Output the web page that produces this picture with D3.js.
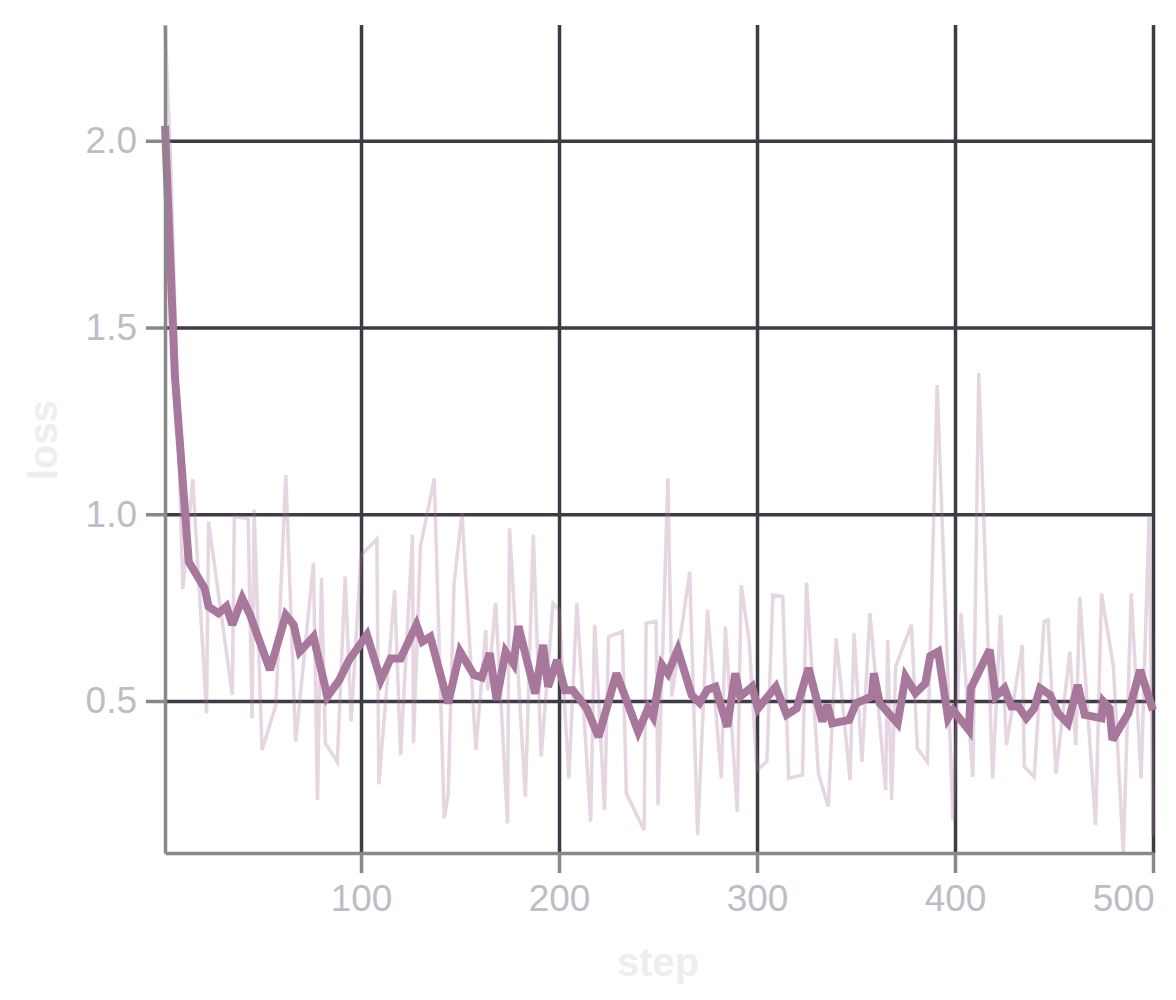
<!DOCTYPE html>
<html>
<head>
<meta charset="utf-8">
<script src="https://cdn.jsdelivr.net/npm/d3@7"></script>
<style>
  html, body { margin: 0; padding: 0; background: #ffffff; }
  svg { display: block; }
</style>
</head>
<body>
<div id="chart"></div>
<script>
// ---- data ----
const rawSteps = [1,4,10,15,22,23,35,36,43,45,46,50,57,62,67,76,78,80,82,88,92,95,100,108,109,117,120,126,126.5,130,137,142,144,147,151,158,163,164,168,174,175,183,187,191,197,200,205,209,216,218,223,225,232,234,243,244,249,250,255,257,266,270,275,282,284,290,292,296,300,305,308,313,316,323,325,331,336,340,347,349,353,357,365,366,368,370,378,381,386,391,399,403,409,412,419,423,426,434,435,440,445,447,451,458,461,463,471,474,480,485,489,494,498,500];
const rawLoss  = [2.31,1.92,0.80,1.094,0.467,0.98,0.516,0.994,0.988,0.454,1.012,0.369,0.489,1.105,0.391,0.870,0.235,0.829,0.387,0.337,0.833,0.445,0.891,0.933,0.277,0.797,0.355,0.945,0.387,0.913,1.096,0.186,0.248,0.815,1.003,0.369,0.69,0.529,0.762,0.172,0.962,0.244,0.945,0.351,0.762,0.744,0.293,0.762,0.177,0.704,0.208,0.672,0.686,0.253,0.154,0.708,0.713,0.221,1.096,0.512,0.846,0.141,0.744,0.293,0.699,0.204,0.81,0.663,0.315,0.338,0.784,0.78,0.293,0.302,0.817,0.306,0.217,0.668,0.288,0.681,0.337,0.735,0.262,0.663,0.235,0.592,0.704,0.373,0.337,1.346,0.181,0.735,0.297,1.378,0.293,0.73,0.382,0.65,0.324,0.297,0.713,0.717,0.306,0.632,0.382,0.779,0.168,0.788,0.592,0.093,0.788,0.293,0.994,0.14];

const smoothSteps = [1,6,13,21,23,28,32,35,40,44,54,62,66,69,76,83,89,94,103,110,115,120,128,131,135,144,150,157,161,165,168.5,173,177,179.5,188,192,194.5,199,203,207,214,220,229,240,245,247.5,252,255,260,267,271,275,279,285,289,291.5,297.5,300.5,309.5,315,320,326,333,335.5,338,346.5,350,358,359,362,371,375,380,385,387.5,391.5,396.5,399,407,408,417.5,420.5,425,428.5,432,436,440,443,448,452,457,462,465.5,474,475,478,479.5,487.5,493.5,500];
const smoothLoss  = [2.04,1.37,0.873,0.802,0.753,0.735,0.753,0.704,0.775,0.730,0.583,0.730,0.704,0.632,0.672,0.512,0.556,0.610,0.677,0.556,0.614,0.614,0.704,0.659,0.672,0.494,0.632,0.570,0.563,0.628,0.503,0.632,0.60,0.70,0.52,0.65,0.538,0.61,0.529,0.529,0.48,0.404,0.574,0.418,0.48,0.458,0.596,0.574,0.637,0.516,0.495,0.53,0.538,0.431,0.574,0.512,0.538,0.48,0.538,0.463,0.48,0.588,0.445,0.49,0.44,0.449,0.494,0.512,0.574,0.494,0.44,0.565,0.521,0.547,0.620,0.632,0.454,0.476,0.422,0.534,0.637,0.512,0.534,0.485,0.485,0.454,0.48,0.534,0.516,0.467,0.44,0.543,0.463,0.454,0.498,0.48,0.396,0.467,0.583,0.475];

const xTicks = [100, 200, 300, 400, 500];
const yTicks = [0.5, 1.0, 1.5, 2.0];
const xLabel = "step";
const yLabel = "loss";

// ---- layout ----
const W = 1176, H = 1000;
const margin = { top: 25, right: 23, bottom: 147, left: 165 };
const w = W - margin.left - margin.right;
const h = H - margin.top - margin.bottom;

const lineColor = "#a8779c";
const gridColor = "#3d3c44";
const axisColor = "#888888";
const tickTextColor = "#bebcc5";
const titleColor = "#eeeeee";
const fontFamily = "'Liberation Sans', Arial, Helvetica, sans-serif";

const raw = rawSteps.map((s, i) => ({ step: s, loss: rawLoss[i] }));
const smooth = smoothSteps.map((s, i) => ({ step: s, loss: smoothLoss[i] }));

const x = d3.scaleLinear().domain([1, 500]).range([0, w]);
const y = d3.scaleLinear().domain(d3.extent(rawLoss)).range([h, 0]);

const svg = d3.select("#chart").append("svg")
  .attr("width", W).attr("height", H);
const g = svg.append("g").attr("transform", `translate(${margin.left},${margin.top})`);

// grid
const gx = g.append("g")
  .call(d3.axisBottom(x).tickValues(xTicks).tickSize(h).tickFormat(""));
gx.select(".domain").remove();
gx.selectAll("line").attr("stroke", gridColor).attr("stroke-width", 3.5);

const gy = g.append("g")
  .call(d3.axisRight(y).tickValues(yTicks).tickSize(w).tickFormat(""));
gy.select(".domain").remove();
gy.selectAll("line").attr("stroke", gridColor).attr("stroke-width", 3.5);

// lines
const line = d3.line().x(d => x(d.step)).y(d => y(d.loss));

g.append("path").datum(raw)
  .attr("fill", "none")
  .attr("stroke", lineColor)
  .attr("stroke-opacity", 0.3)
  .attr("stroke-width", 3.5)
  .attr("d", line);

g.append("path").datum(smooth)
  .attr("fill", "none")
  .attr("stroke", lineColor)
  .attr("stroke-width", 8)
  .attr("stroke-miterlimit", 3)
  .attr("d", line);

// axes
const ax = g.append("g").attr("transform", `translate(0,${h})`)
  .call(d3.axisBottom(x).tickValues(xTicks).tickSize(20).tickPadding(12).tickSizeOuter(0));
const ay = g.append("g")
  .call(d3.axisLeft(y).tickValues(yTicks).tickSize(19).tickPadding(9).tickSizeOuter(0).tickFormat(d3.format(".1f")));

[ax, ay].forEach(a => {
  a.select(".domain").attr("stroke", axisColor).attr("stroke-width", 3.5);
  a.selectAll(".tick line").attr("stroke", axisColor).attr("stroke-width", 3.5);
  a.selectAll(".tick text")
    .attr("fill", tickTextColor)
    .style("font-family", fontFamily)
    .style("font-size", "37px");
});
// last x label sits inside the right edge
ax.selectAll(".tick text").filter(d => d === 500).attr("text-anchor", "end").attr("x", 1);

// titles
svg.append("text")
  .attr("x", margin.left + x(250))
  .attr("y", 976)
  .attr("text-anchor", "middle")
  .attr("fill", titleColor)
  .style("font-family", fontFamily)
  .style("font-size", "40px")
  .style("font-weight", "bold")
  .text(xLabel);

svg.append("text")
  .attr("transform", `translate(57,440) rotate(-90)`)
  .attr("text-anchor", "middle")
  .attr("fill", titleColor)
  .style("font-family", fontFamily)
  .style("font-size", "40px")
  .style("font-weight", "bold")
  .text(yLabel);
</script>
</body>
</html>
